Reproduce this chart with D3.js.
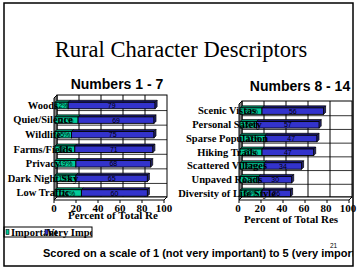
<!DOCTYPE html>
<html><head><meta charset="utf-8">
<script src="https://cdn.jsdelivr.net/npm/d3@7"></script>
<style>html,body{margin:0;padding:0;background:#fff;}svg{display:block;}</style>
</head><body>
<script>
const leftCats = ["Woods","Quiet/Silence","Wildlife","Farms/Fields","Privacy","Dark Night Sky","Low Traffic"];
const leftImportant = [12,21,15,18,19,19,24];
const leftVeryImportant = [79,69,75,71,68,65,60];
const rightCats = ["Scenic Vistas","Personal Safety","Sparse Population","Hiking Trails","Scattered Villages","Unpaved Roads","Diversity of Life Style"];
const rightImportant = [20,15,23,20,22,17,20];
const rightVeryImportant = [56,57,47,47,34,30,26];
const ticks = [0,20,40,60,80,100];
const seriesNames = ["Important","Very Important"];

const W=359,H=270;
const svg=d3.select("body").append("svg").attr("width",W).attr("height",H);
svg.append("rect").attr("width",W).attr("height",H).attr("fill","#fff");
const defs=svg.append("defs");
defs.append("clipPath").attr("id","frameClip").append("rect").attr("x",4).attr("y",3).attr("width",349).attr("height",263);
defs.append("clipPath").attr("id","legClip").append("rect").attr("x",4).attr("y",226).attr("width",88).attr("height",12);

const serif="Liberation Serif, Times New Roman, DejaVu Serif, serif";
const sans="Liberation Sans, Arial, sans-serif";

svg.append("text").attr("x",181).attr("y",57).attr("text-anchor","middle")
  .style("font-family",serif).attr("font-size",22.5).text("Rural Character Descriptors");

const colors={gF:"#00CC99",gT:"#00916c",bF:"#3333CC",bT:"#1c1c7a",cap:"#26266e"};

function panel(o){
  const g=svg.append("g");
  const d=3, bd=2;
  const x=d3.scaleLinear().domain([0,100]).range([o.x0,o.x0+110]);
  const y=d3.scaleBand().domain(o.cats).range([o.top+3,o.bottom]).padding(0);
  const bTop=o.top, bBot=o.bottom-d;
  g.append("rect").attr("x",x(0)+d).attr("y",bTop).attr("width",x(100)-x(0)).attr("height",bBot-bTop)
    .attr("fill","#fff").attr("stroke","#000").attr("stroke-width",1);
  ticks.slice(1,-1).forEach(t=>{
    g.append("line").attr("x1",x(t)+d).attr("x2",x(t)+d).attr("y1",bTop).attr("y2",bBot).attr("stroke","#000");
  });
  o.cats.slice(1).forEach(c=>{
    const yy=y(c)-d+1;
    g.append("line").attr("x1",x(0)+d).attr("x2",x(100)+d).attr("y1",yy).attr("y2",yy).attr("stroke","#000").attr("stroke-width",0.8);
  });
  g.append("polygon").attr("points",[[x(0),bTop+d],[x(0)+d,bTop],[x(0)+d,bBot],[x(0),o.bottom]].join(" "))
    .attr("fill","#808080").attr("stroke","#000").attr("stroke-width",1);
  g.append("polygon").attr("points",[[x(0),o.bottom],[x(0)+d,bBot],[x(100)+d,bBot],[x(100),o.bottom]].join(" "))
    .attr("fill","#fff").attr("stroke","#000").attr("stroke-width",1);
  ticks.forEach(t=>{
    g.append("line").attr("x1",x(t)).attr("x2",x(t)).attr("y1",o.bottom).attr("y2",o.bottom+3).attr("stroke","#000");
    g.append("text").attr("x",x(t)-o.lblShift).attr("y",212).attr("text-anchor","middle")
      .style("font-family",serif).attr("font-weight","bold").attr("font-size",11).text(t);
  });
  o.cats.forEach((c,i)=>{
    const yc=y(c)+y.bandwidth()/2;
    const segs=[[0,o.imp[i],colors.gF,colors.gT],[o.imp[i],o.imp[i]+o.vimp[i],colors.bF,colors.bT]];
    segs.forEach(([s,e,f,t],k)=>{
      const x1=x(s)+1,x2=x(e)+1,y1=yc-3,y2=yc+3.5;
      g.append("polygon").attr("points",[[x1,y1],[x1+bd,y1-bd],[x2+bd,y1-bd],[x2,y1]].join(" "))
        .attr("fill",t).attr("stroke","#000").attr("stroke-width",0.7);
      g.append("rect").attr("x",x1).attr("y",y1).attr("width",x2-x1).attr("height",y2-y1)
        .attr("fill",f).attr("stroke","#000").attr("stroke-width",0.9);
      if(k===1){
        g.append("polygon").attr("points",[[x2,y1],[x2+bd,y1-bd],[x2+bd,y2-bd],[x2,y2]].join(" "))
          .attr("fill",colors.cap).attr("stroke","#000").attr("stroke-width",0.7);
      }
      g.append("text").attr("x",(x1+x2)/2).attr("y",yc+2.8).attr("text-anchor","middle")
        .style("font-family",sans).attr("font-size",7).attr("fill","#000").text(k===0? (e-s)+"%" : (e-s));
    });
  });
  o.cats.forEach(c=>{
    const yc=y(c)+y.bandwidth()/2;
    g.append("text").attr("x",o.labelX).attr("y",yc+3.5).attr("text-anchor","middle")
      .style("font-family",serif).attr("font-weight","bold").attr("font-size",10.5).text(c);
  });
  g.append("text").attr("x",o.titleX).attr("y",o.titleY).attr("text-anchor","middle")
    .style("font-family",sans).attr("font-weight","bold").attr("font-size",14).text(o.title);
  g.append("text").attr("x",o.axX).attr("y",o.axY).attr("text-anchor","middle")
    .style("font-family",serif).attr("font-weight","bold").attr("font-size",11).text(o.axTitle);
}

panel({cats:leftCats,imp:leftImportant,vimp:leftVeryImportant,x0:54,top:95,bottom:200,labelX:43,
  title:"Numbers 1 - 7",titleX:117,titleY:89,axTitle:"Percent of Total Re",axX:113,axY:219,lblShift:0});
panel({cats:rightCats,imp:rightImportant,vimp:rightVeryImportant,x0:239,top:101,bottom:200,labelX:227,
  title:"Numbers 8 - 14",titleX:300,titleY:91,axTitle:"Percent of Total Res",axX:291,axY:223,lblShift:1});

const lg=svg.append("g");
lg.append("rect").attr("x",4).attr("y",227).attr("width",88).attr("height",10).attr("fill","#fff").attr("stroke","#000");
const lgc=lg.append("g").attr("clip-path","url(#legClip)");
lgc.append("rect").attr("x",6).attr("y",229.5).attr("width",3).attr("height",5).attr("fill",colors.gF).attr("stroke","#000").attr("stroke-width",0.6);
lgc.append("text").attr("x",11).attr("y",235.5).style("font-family",serif).attr("font-weight","bold").attr("font-size",10.5).text(seriesNames[0]);
lgc.append("rect").attr("x",45).attr("y",229.5).attr("width",3).attr("height",5).attr("fill",colors.bF).attr("stroke","#000").attr("stroke-width",0.6);
lgc.append("text").attr("x",47).attr("y",235.5).style("font-family",serif).attr("font-weight","bold").attr("font-size",10.5).text(seriesNames[1]);

const ft=svg.append("g").attr("clip-path","url(#frameClip)");
ft.append("text").attr("x",43).attr("y",257).style("font-family",sans).attr("font-weight","bold").attr("font-size",11)
  .text("Scored on a scale of 1 (not very important) to 5 (very important)");
ft.append("text").attr("x",330).attr("y",248).style("font-family",sans).attr("font-size",6.5).text("21");

svg.append("rect").attr("x",4).attr("y",3).attr("width",349).attr("height",263).attr("fill","none").attr("stroke","#000").attr("stroke-width",1.5);
</script>
</body></html>
